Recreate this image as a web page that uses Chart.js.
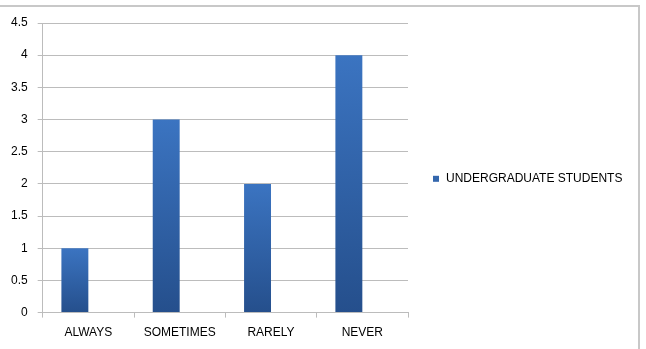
<!DOCTYPE html>
<html>
<head>
<meta charset="utf-8">
<script src="https://cdn.jsdelivr.net/npm/chart.js@4"></script>
<style>
    html, body { margin: 0; padding: 0; background: #ffffff; }
    #wrap { width: 646px; height: 349px; position: relative; }
</style>
</head>
<body>
<div id="wrap"><canvas id="bar-chart"></canvas></div>
<script>
// chart data
const categories = ['ALWAYS', 'SOMETIMES', 'RARELY', 'NEVER'];
const studentValues = [1, 3, 2, 4];
const seriesName = 'UNDERGRADUATE STUDENTS';
// second (empty) series in the original sheet pushes the bars left of centre
const emptyValues = [null, null, null, null];

const FONT = { family: '"Liberation Sans", Arial, sans-serif', size: 12 };
const GRID_COLOR = '#bcbcbc';
const BAR_TOP = '#3b74c1';
const BAR_BOTTOM = '#254f8c';

// bar gradient, lighter at the top of each bar
function barFill(context) {
    const chart = context.chart;
    if (!chart.chartArea || context.type !== 'data') {
        return '#3467ad';
    }
    const yScale = chart.scales.y;
    const top = yScale.getPixelForValue(context.raw);
    const bottom = yScale.getPixelForValue(0);
    const g = chart.ctx.createLinearGradient(0, top, 0, bottom);
    g.addColorStop(0, BAR_TOP);
    g.addColorStop(1, BAR_BOTTOM);
    return g;
}

// thin frame around the picture (top and right edges)
const framePlugin = {
    id: 'frame',
    beforeDraw(chart) {
        const ctx = chart.ctx;
        ctx.save();
        ctx.strokeStyle = '#c8c8c8';
        ctx.lineWidth = 2;
        ctx.beginPath();
        ctx.moveTo(0, 6);
        ctx.lineTo(639, 6);
        ctx.lineTo(639, chart.height);
        ctx.stroke();
        ctx.restore();
    }
};

// legend to the right of the plot (the built-in one gets squeezed)
const sideLegendPlugin = {
    id: 'sideLegend',
    afterDraw(chart) {
        const { ctx, chartArea } = chart;
        const ds = chart.data.datasets[0];
        const x = chartArea.right + 25;
        const y = (chartArea.top + chartArea.bottom) / 2 + 11;
        ctx.save();
        ctx.fillStyle = '#3467ad';
        ctx.fillRect(x, y - 3, 6, 6);
        ctx.fillStyle = '#000000';
        ctx.font = `${FONT.size}px ${FONT.family}`;
        ctx.textBaseline = 'middle';
        ctx.textAlign = 'left';
        ctx.fillText(ds.label, x + 13, y);
        ctx.restore();
    }
};

const canvas = document.getElementById('bar-chart');
new Chart(canvas, {
    type: 'bar',
    data: {
        labels: categories,
        datasets: [
            {
                label: seriesName,
                data: studentValues,
                backgroundColor: barFill,
                borderWidth: 0
            },
            {
                label: '',
                data: emptyValues,
                backgroundColor: '#c0504d'
            }
        ]
    },
    options: {
        responsive: true,
        maintainAspectRatio: false,
        animation: false,
        categoryPercentage: 0.59,
        barPercentage: 1,
        layout: {
            padding: { top: 23, left: 1, right: 238, bottom: 1 }
        },
        plugins: {
            legend: { display: false },
            tooltip: { enabled: false },
            title: { display: false }
        },
        scales: {
            x: {
                grid: {
                    offset: true,
                    drawOnChartArea: false,
                    drawTicks: true,
                    tickLength: 5,
                    color: GRID_COLOR
                },
                border: { color: GRID_COLOR },
                ticks: {
                    font: FONT,
                    color: '#000000',
                    padding: 8,
                    maxRotation: 0
                }
            },
            y: {
                min: 0,
                max: 4.5,
                grid: {
                    color: GRID_COLOR,
                    tickLength: 5
                },
                border: { color: GRID_COLOR },
                ticks: {
                    stepSize: 0.5,
                    font: FONT,
                    color: '#000000',
                    padding: 10,
                    callback: (value) => String(value)
                }
            }
        }
    },
    plugins: [framePlugin, sideLegendPlugin]
});
</script>
</body>
</html>
